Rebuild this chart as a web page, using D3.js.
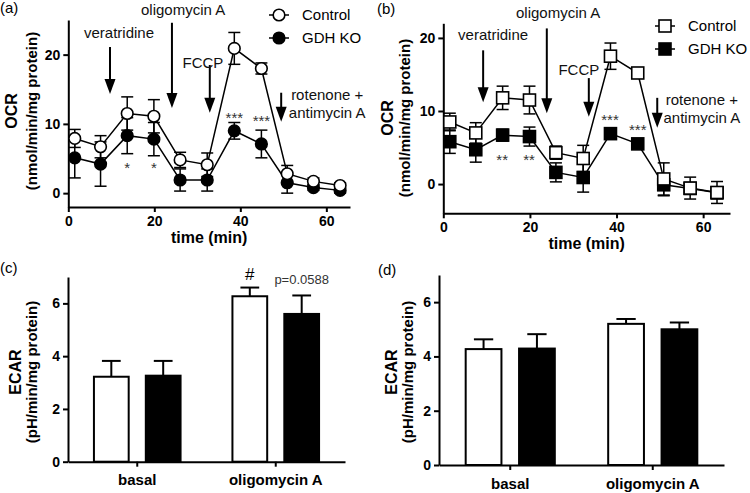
<!DOCTYPE html>
<html>
<head>
<meta charset="utf-8">
<script src="https://cdn.jsdelivr.net/npm/d3@7"></script>
<style>
  body { margin: 0; background: #fff; }
  svg { display: block; font-family: "Liberation Sans", Arial, sans-serif; }
</style>
</head>
<body>
<svg id="chart" width="750" height="493"></svg>
<script>
// ---------------- DATA ----------------
const times = [1.5, 7.5, 13.7, 19.9, 26, 32.3, 38.6, 44.9, 50.9, 57, 63.2];

const ocrA_control = [7.9, 6.7, 11.5, 11.1, 4.8, 4.1, 20.9, 18.0, 2.8, 1.7, 1.1];
const ocrA_controlErr = [1.3, 1.6, 2.4, 2.4, 1.1, 1.7, 2.3, 0.8, 1.2, 0.5, 0.4];
const ocrA_ko = [5.1, 4.2, 8.3, 7.8, 1.9, 1.9, 9.0, 7.1, 1.5, 0.8, 0.4];
const ocrA_koErr = [2.9, 3.2, 2.6, 2.4, 1.6, 1.6, 1.2, 2.0, 1.5, 0.4, 0.4];

const ocrB_control = [8.5, 7.0, 11.8, 11.5, 4.3, 3.5, 17.5, 15.2, 0.7, -0.55, -1.15];
const ocrB_controlErr = [1.2, 1.4, 1.6, 1.9, 0.9, 1.8, 1.8, 0.4, 2.2, 1.5, 1.5];
const ocrB_ko = [5.8, 4.7, 6.7, 6.5, 1.6, 0.9, 6.9, 5.5, -0.1, -0.6, -1.2];
const ocrB_koErr = [1.6, 1.7, 0.8, 1.3, 1.3, 2.0, 0.5, 0.4, 1.5, 0.8, 0.8];

const barCategories = ["basal", "oligomycin A"];
const ecarC_control = [3.22, 6.27];
const ecarC_controlErr = [0.6, 0.33];
const ecarC_ko = [3.26, 5.6];
const ecarC_koErr = [0.56, 0.7];

const ecarD_control = [4.27, 5.2];
const ecarD_controlErr = [0.36, 0.18];
const ecarD_ko = [4.29, 5.0];
const ecarD_koErr = [0.53, 0.25];

const seriesNames = ["Control", "GDH KO"];
const ocrTicksX = [0, 20, 40, 60];
const ocrTicksYA = [0, 10, 20];
const ocrTicksYB = [0, 10, 20];
const ecarTicksY = [0, 2, 4, 6];

// annotations (data units)
const arrowsA = [
  {label: ["veratridine"], x: 9.7, from: 21.1, to: 14.3, lx: 11.8, ly: [22.4]},
  {label: ["oligomycin A"], x: 24.1, from: 24.6, to: 12.3, lx: 26.7, ly: [25.7]},
  {label: ["FCCP"], x: 32.9, from: 18.5, to: 11.6, lx: 31.3, ly: [18.1]},
  {label: ["rotenone +", "antimycin A"], x: 49.5, from: 14.5, to: 10.3, lx: 60.2, ly: [13.4, 10.8]}
];
const arrowsB = [
  {label: ["veratridine"], x: 9.2, from: 18.3, to: 11.2, lx: 11.5, ly: [19.7]},
  {label: ["oligomycin A"], x: 23.9, from: 21.3, to: 9.7, lx: 26.5, ly: [22.7]},
  {label: ["FCCP"], x: 33.6, from: 14.5, to: 9.2, lx: 31.3, ly: [14.9]},
  {label: ["rotenone +", "antimycin A"], x: 49.4, from: 11.8, to: 7.7, lx: 59.7, ly: [10.8, 8.4]}
];
const starsA = [
  {t: "*", x: 13.7, y: 2.9}, {t: "*", x: 19.9, y: 2.9},
  {t: "***", x: 38.6, y: 10.1}, {t: "***", x: 44.9, y: 9.7}
];
const starsB = [
  {t: "**", x: 13.6, y: 2.6}, {t: "**", x: 19.8, y: 2.6},
  {t: "***", x: 38.5, y: 8.1}, {t: "***", x: 44.9, y: 6.7}
];

// ---------------- DRAW ----------------
const svg = d3.select("#chart");
const FONT = "'Liberation Sans', Arial, sans-serif";

function styleAxis(g) {
  g.selectAll("path.domain").attr("stroke", "#000").attr("stroke-width", 2);
  g.selectAll(".tick line").attr("stroke", "#000").attr("stroke-width", 2);
  g.selectAll(".tick text").attr("font-family", FONT).attr("font-size", 14)
    .attr("font-weight", "bold").attr("fill", "#000");
}

function yTitle(x1, x2, yc, t1, t2) {
  svg.append("text").attr("transform", `translate(${x1},${yc}) rotate(-90)`)
    .attr("text-anchor", "middle").attr("dy", "0.35em")
    .attr("font-size", 16).attr("font-weight", "bold").text(t1);
  svg.append("text").attr("transform", `translate(${x2},${yc}) rotate(-90)`)
    .attr("text-anchor", "middle").attr("dy", "0.35em")
    .attr("font-size", 15).attr("font-weight", "bold").text(t2);
}

function panelLabel(x, y, t) {
  svg.append("text").attr("x", x).attr("y", y).attr("font-size", 15).text(t);
}

function linePanel(cfg) {
  const x = d3.scaleLinear().domain(cfg.xDomain).range([cfg.left, cfg.right]);
  const y = d3.scaleLinear().domain(cfg.yDomain).range([cfg.bottom, cfg.top]);
  const g = svg.append("g");

  // axes
  const ax = g.append("g").attr("transform", `translate(0,${cfg.bottom})`)
    .call(d3.axisBottom(x).tickValues(ocrTicksX).tickFormat(d3.format("d"))
      .tickSize(5).tickSizeOuter(0).tickPadding(4));
  styleAxis(ax);
  const ay = g.append("g").attr("transform", `translate(${cfg.left},0)`)
    .call(d3.axisLeft(y).tickValues(cfg.yTicks).tickFormat(d3.format("d"))
      .tickSize(5).tickSizeOuter(0).tickPadding(3));
  styleAxis(ay);

  const series = [
    {name: seriesNames[1], v: cfg.ko, e: cfg.koErr, fill: "#000"},
    {name: seriesNames[0], v: cfg.control, e: cfg.controlErr, fill: "#fff"}
  ];
  const line = d3.line().x((d, i) => x(times[i])).y(d => y(d));
  const capW = 6;
  series.forEach(s => {
    const sg = g.append("g");
    // error bars
    s.v.forEach((v, i) => {
      const cx = x(times[i]);
      const y1 = y(v + s.e[i]), y2 = y(v - s.e[i]);
      sg.append("line").attr("x1", cx).attr("x2", cx).attr("y1", y1).attr("y2", y2)
        .attr("stroke", "#000").attr("stroke-width", 1.5);
      [y1, y2].forEach(yy => sg.append("line").attr("x1", cx - capW).attr("x2", cx + capW)
        .attr("y1", yy).attr("y2", yy).attr("stroke", "#000").attr("stroke-width", 1.5));
    });
    sg.append("path").attr("d", line(s.v)).attr("fill", "none")
      .attr("stroke", "#000").attr("stroke-width", 1.5);
    s.v.forEach((v, i) => drawMarker(sg, cfg.marker, x(times[i]), y(v), s.fill));
  });

  // annotations
  cfg.arrows.forEach(a => {
    const ax0 = x(a.x), yf = y(a.from), yt = y(a.to);
    const head = 15, hw = 5.5;
    g.append("line").attr("x1", ax0).attr("x2", ax0).attr("y1", yf).attr("y2", yt - head + 1)
      .attr("stroke", "#000").attr("stroke-width", 2);
    g.append("path").attr("d", `M${ax0 - hw},${yt - head} L${ax0 + hw},${yt - head} L${ax0},${yt} Z`)
      .attr("fill", "#000");
    a.label.forEach((t, k) => g.append("text").attr("x", x(a.lx)).attr("y", y(a.ly[k]))
      .attr("text-anchor", "middle").attr("font-size", 15).attr("fill", "#111").text(t));
  });
  cfg.stars.forEach(s => g.append("text").attr("x", x(s.x)).attr("y", y(s.y))
    .attr("text-anchor", "middle").attr("font-size", 15).attr("fill", "#333").text(s.t));

  // legend
  const lg = g.append("g");
  [[seriesNames[0], "#fff"], [seriesNames[1], "#000"]].forEach(([nm, fill], k) => {
    const ly = cfg.legY + k * cfg.legGap;
    lg.append("line").attr("x1", cfg.legX - 10).attr("x2", cfg.legX + 10).attr("y1", ly).attr("y2", ly)
      .attr("stroke", "#000").attr("stroke-width", 1.5);
    drawMarker(lg, cfg.marker, cfg.legX, ly, fill);
    lg.append("text").attr("x", cfg.legX + 23).attr("y", ly).attr("dy", "0.35em")
      .attr("font-size", 15).text(nm);
  });

  // x title
  svg.append("text").attr("x", (cfg.left + cfg.right) / 2).attr("y", cfg.bottom + 36)
    .attr("text-anchor", "middle").attr("font-size", 16).attr("font-weight", "bold").text("time (min)");
}

function drawMarker(g, type, cx, cy, fill) {
  if (type === "circle") {
    g.append("circle").attr("cx", cx).attr("cy", cy).attr("r", 5.8)
      .attr("fill", fill).attr("stroke", "#000").attr("stroke-width", 1.6);
  } else {
    const s = 12;
    g.append("rect").attr("x", cx - s / 2).attr("y", cy - s / 2).attr("width", s).attr("height", s)
      .attr("fill", fill).attr("stroke", "#000").attr("stroke-width", 1.6);
  }
}

function barPanel(cfg) {
  const x0 = d3.scaleBand().domain(barCategories).range([cfg.left, cfg.right]).padding(0);
  const x1 = d3.scaleBand().domain(seriesNames).range([0, x0.bandwidth()])
    .paddingInner(0.33).paddingOuter(0.5);
  const y = d3.scaleLinear().domain([0, 7]).range([cfg.bottom, cfg.top]);
  const g = svg.append("g");

  const series = [
    {name: seriesNames[0], v: cfg.control, e: cfg.controlErr, fill: "#fff"},
    {name: seriesNames[1], v: cfg.ko, e: cfg.koErr, fill: "#000"}
  ];
  series.forEach(s => {
    barCategories.forEach((c, i) => {
      const bx = x0(c) + x1(s.name), bw = x1.bandwidth();
      const cx = bx + bw / 2;
      g.append("line").attr("x1", cx).attr("x2", cx).attr("y1", y(s.v[i])).attr("y2", y(s.v[i] + s.e[i]))
        .attr("stroke", "#000").attr("stroke-width", 2);
      g.append("line").attr("x1", cx - bw * 0.27).attr("x2", cx + bw * 0.27)
        .attr("y1", y(s.v[i] + s.e[i])).attr("y2", y(s.v[i] + s.e[i]))
        .attr("stroke", "#000").attr("stroke-width", 2);
      g.append("rect").attr("x", bx).attr("y", y(s.v[i])).attr("width", bw)
        .attr("height", y(0) - y(s.v[i])).attr("fill", s.fill).attr("stroke", "#000").attr("stroke-width", 2);
    });
  });

  const ax = g.append("g").attr("transform", `translate(0,${cfg.bottom})`)
    .call(d3.axisBottom(x0).tickSize(5).tickSizeOuter(0).tickPadding(8));
  styleAxis(ax);
  ax.selectAll(".tick text").attr("font-size", 15);
  const ay = g.append("g").attr("transform", `translate(${cfg.left},0)`)
    .call(d3.axisLeft(y).tickValues(ecarTicksY).tickFormat(d3.format("d"))
      .tickSize(5).tickSizeOuter(0).tickPadding(3));
  styleAxis(ay);

  if (cfg.notes) cfg.notes(g, x0, x1, y);
}

// (a)
panelLabel(0, 13, "(a)");
yTitle(11, 32, 111, "OCR", "(nmol/min/mg protein)");
linePanel({
  left: 68.3, right: 350, top: 20, bottom: 207,
  xDomain: [0, 65.5], yDomain: [-2, 25], yTicks: ocrTicksYA,
  control: ocrA_control, controlErr: ocrA_controlErr, ko: ocrA_ko, koErr: ocrA_koErr,
  marker: "circle", arrows: arrowsA, stars: starsA,
  legX: 279, legY: 15, legGap: 23
});

// (b)
panelLabel(377, 14, "(b)");
yTitle(387, 405, 118, "OCR", "(nmol/min/mg protein)");
linePanel({
  left: 443.3, right: 730, top: 23.3, bottom: 213.3,
  xDomain: [0, 66.2], yDomain: [-4, 22], yTicks: ocrTicksYB,
  control: ocrB_control, controlErr: ocrB_controlErr, ko: ocrB_ko, koErr: ocrB_koErr,
  marker: "square", arrows: arrowsB, stars: starsB,
  legX: 665, legY: 26, legGap: 23
});

// (c)
panelLabel(0, 273, "(c)");
yTitle(15, 32, 372, "ECAR", "(pH/min/mg protein)");
barPanel({
  left: 68, right: 345, top: 277, bottom: 461.7,
  control: ecarC_control, controlErr: ecarC_controlErr, ko: ecarC_ko, koErr: ecarC_koErr,
  notes: (g, x0, x1, y) => {
    const c = barCategories[1];
    g.append("text").attr("x", x0(c) + x1(seriesNames[0]) + x1.bandwidth() / 2)
      .attr("y", y(ecarC_control[1] + ecarC_controlErr[1]) - 8)
      .attr("text-anchor", "middle").attr("font-size", 17).text("#");
    g.append("text").attr("x", x0(c) + x1(seriesNames[1]) + x1.bandwidth() / 2)
      .attr("y", y(ecarC_ko[1] + ecarC_koErr[1]) - 11)
      .attr("text-anchor", "middle").attr("font-size", 13).attr("fill", "#333").text("p=0.0588");
  }
});

// (d)
panelLabel(378, 275, "(d)");
yTitle(391, 408, 372, "ECAR", "(pH/min/mg protein)");
barPanel({
  left: 439, right: 724, top: 275, bottom: 465,
  control: ecarD_control, controlErr: ecarD_controlErr, ko: ecarD_ko, koErr: ecarD_koErr
});
</script>
</body>
</html>
